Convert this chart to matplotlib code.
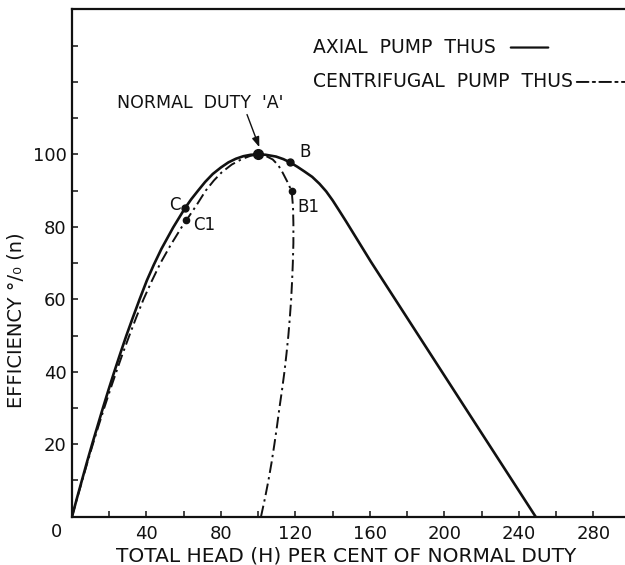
import numpy as np
import matplotlib.pyplot as plt
from matplotlib.text import OffsetFrom

plt.rcParams['font.family'] = ['DejaVu Sans']

INK = '#111111'

# efficiency (%) against total head (% of normal duty)
axial_head = [0, 2.6, 5.3, 8.0, 10.8, 13.7, 16.6, 19.6, 22.7, 25.9, 29.2, 32.7,
              36.3, 40.2, 43.9, 48, 54.3, 57.5, 60.6, 64, 67.7, 71.5, 75.6, 80,
              84, 88, 92, 96, 100, 104, 109.6, 113.5, 117.1, 121, 124.8, 129,
              132.9, 136.5, 140, 143.5, 147.2, 160.5, 186, 211.5, 249]
axial_eff = [0, 5, 10, 15, 20, 25, 30, 35, 40, 45, 50, 55,
             60, 65.2, 69.5, 73.9, 79.8, 82.5, 85.1, 87.6, 90, 92.4, 94.6, 96.4,
             97.8, 98.8, 99.5, 99.9, 100, 99.9, 99.4, 98.7, 97.8, 96.6, 95.3, 93.8,
             91.9, 89.8, 87.3, 84.5, 81.5, 70.4, 50.1, 29.8, 0]

centri_head = [0, 2.7, 5.5, 8.3, 11.2, 14.2, 17.3, 20.5, 23.8, 27.2, 30.8, 34.5,
               38.4, 42.8, 47.5, 53.0, 59.0, 61.4, 66.9, 71.8, 76.2, 80.3, 85.8,
               91.2, 95.8, 100, 104, 107.8, 110.8, 113.2, 115.6, 118, 118.7,
               118.9, 118.9, 118.6, 118.2, 117.7, 117, 116.2, 115.2, 114.1,
               112.8, 111.4, 110.1, 108.7, 107.2, 105.5, 103.6, 101.5]
centri_eff = [0, 5, 10, 15, 20, 25, 30, 35, 40, 45, 50, 55,
              60, 65, 70, 75, 80, 81.8, 86, 90, 92.8, 95, 97.2,
              98.7, 99.6, 100, 99.6, 98.6, 97, 94.9, 92.5, 89.8, 85.5,
              81, 75.5, 70, 65, 60, 55, 50, 45, 40,
              35, 30, 25, 20, 15, 10, 5, 0]

# marked duty points
point_names = ['A', 'B', 'B1', 'C', 'C1']
point_head = [100, 117.1, 118, 60.6, 61.4]
point_eff = [100, 97.8, 89.8, 85.1, 81.8]

x_ticks = list(range(20, 300, 20))
x_tick_labels = [str(v) if v % 40 == 0 else '' for v in x_ticks]
y_ticks = list(range(10, 140, 10))
y_tick_labels = [str(v) if v % 20 == 0 and v <= 100 else '' for v in y_ticks]

fig = plt.figure(figsize=(6.25, 5.65), dpi=100)
ax = fig.add_axes([0.1152, 0.0855, 0.8848, 0.8977])

ax.plot(axial_head, axial_eff, color=INK, lw=1.9,
        solid_joinstyle='round', solid_capstyle='round')
ax.plot(centri_head, centri_eff, color=INK, lw=1.4,
        linestyle=(0, (6, 2.2, 1.2, 2.2)))

sizes = [7, 5, 4.5, 5, 4.5]
for name, hx, ey, ms in zip(point_names, point_head, point_eff, sizes):
    ax.plot(hx, ey, 'o', color=INK, ms=ms, zorder=5)

lab = dict(fontsize=12, color=INK, va='center')
ax.text(122.3, 100.6, 'B', ha='left', **lab)
ax.text(121.3, 85.4, 'B1', ha='left', **lab)
ax.text(58.3, 86.0, 'C', ha='right', **lab)
ax.text(65.0, 80.6, 'C1', ha='left', **lab)

ax.text(68.7, 114.2, "NORMAL  DUTY  'A'", ha='center', va='center',
        fontsize=12.5, color=INK)
ax.annotate('', xy=(100.6, 102.0), xytext=(94.0, 111.0),
            arrowprops=dict(arrowstyle='-|>,head_length=0.6,head_width=0.22',
                            color=INK, lw=1.0, shrinkA=0, shrinkB=0))

# key, text followed by a short sample of each line
t1 = ax.text(129.3, 129.5, 'AXIAL  PUMP  THUS', ha='left', va='center',
             fontsize=13.5, color=INK)
t2 = ax.text(129.3, 120.0, 'CENTRIFUGAL  PUMP  THUS', ha='left', va='center',
             fontsize=13.5, color=INK)
ref1 = OffsetFrom(t1, (1, 0.5))
ax.annotate('', xy=(38, 0), xycoords=ref1, xytext=(11, 0), textcoords=ref1,
            arrowprops=dict(arrowstyle='-', color=INK, lw=1.6,
                            shrinkA=0, shrinkB=0))
ref2 = OffsetFrom(t2, (1, 0.5))
ax.annotate('', xy=(40, 0), xycoords=ref2, xytext=(3, 0), textcoords=ref2,
            arrowprops=dict(arrowstyle='-', color=INK, lw=1.4,
                            linestyle=(0, (6, 2.2, 1.2, 2.2)),
                            shrinkA=0, shrinkB=0))

ax.set_xlim(0, 297)
ax.set_ylim(0, 140)
ax.set_xticks(x_ticks)
ax.set_xticklabels(x_tick_labels)
ax.set_yticks(y_ticks)
ax.set_yticklabels(y_tick_labels)
ax.tick_params(direction='in', length=4, width=1.1, colors=INK, labelsize=13)
ax.tick_params(axis='x', pad=6)
ax.tick_params(axis='y', pad=4)

for side in ['left', 'bottom', 'top']:
    ax.spines[side].set_linewidth(1.6)
    ax.spines[side].set_color(INK)
ax.spines['right'].set_visible(False)

ax.annotate('0', xy=(0, 0), xytext=(-11, -11), textcoords='offset points',
            ha='center', va='center', fontsize=13, color=INK)

fig.text(0.554, 0.007, 'TOTAL HEAD (H) PER CENT OF NORMAL DUTY',
         ha='center', va='baseline', fontsize=14.5, color=INK)
fig.text(0.026, 0.434, 'EFFICIENCY °/₀ (n)', rotation=90,
         ha='center', va='center', fontsize=14, color=INK)

fig.savefig('out.png', dpi=100)
